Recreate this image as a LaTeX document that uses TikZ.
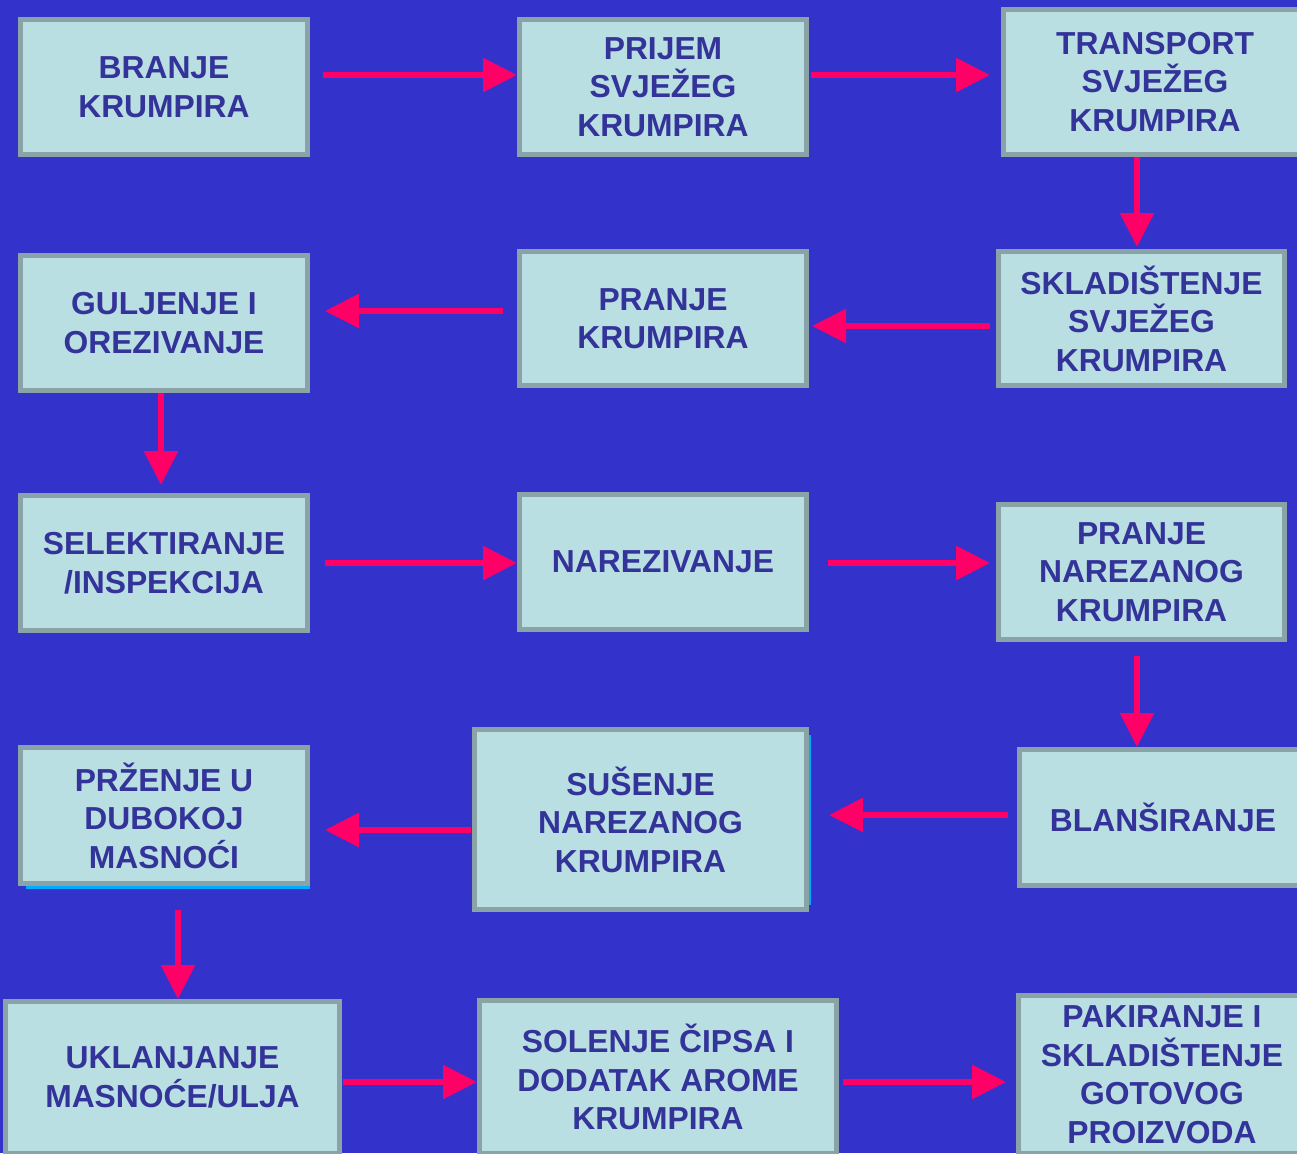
\documentclass[tikz,border=0pt]{standalone}
\usepackage{fontspec}
\setmainfont{Liberation Sans}
\usetikzlibrary{arrows.meta,calc}
\definecolor{bgblue}{RGB}{51,51,204}
\definecolor{boxfill}{RGB}{185,223,227}
\definecolor{boxline}{RGB}{138,163,166}
\definecolor{txtblue}{RGB}{51,51,153}
\definecolor{arrpink}{RGB}{255,0,102}
\definecolor{shadecyan}{RGB}{0,170,255}
\tikzset{
  stepbox/.style={draw=boxline, line width=5pt, fill=boxfill, inner sep=0pt,
    text=txtblue, align=center, font=\fontsize{31.8}{38.5}\selectfont\bfseries},
  arr/.style={draw=arrpink, line width=6pt, -{Triangle[length=34pt,width=33pt]}}
}
\begin{document}
\begin{tikzpicture}[x=1pt,y=-1pt]
\useasboundingbox (0,0) rectangle (1297,1153);
\clip (0,0) rectangle (1297,1153);
\fill[bgblue] (0,0) rectangle (1297,1153);
% shadow accents
\draw[shadecyan, line width=3pt] (26,887) -- (310,887);
\draw[shadecyan, line width=2pt] (810,735) -- (810,905);
% boxes
\node[stepbox, minimum width=287, minimum height=135] (b1) at (164,87) {BRANJE\\KRUMPIRA};
\node[stepbox, minimum width=287, minimum height=135] (b2) at (663,87) {PRIJEM\\SVJEŽEG\\KRUMPIRA};
\node[stepbox, minimum width=303, minimum height=145] (b3) at (1155,82) {TRANSPORT\\SVJEŽEG\\KRUMPIRA};
\node[stepbox, minimum width=286, minimum height=134] (b4) at (1141.5,318.5) {SKLADIŠTENJE\\SVJEŽEG\\KRUMPIRA};
\node[stepbox, minimum width=287, minimum height=134] (b5) at (663,318.5) {PRANJE\\KRUMPIRA};
\node[stepbox, minimum width=287, minimum height=135] (b6) at (164,323) {GULJENJE I\\OREZIVANJE};
\node[stepbox, minimum width=287, minimum height=135] (b7) at (164,563) {SELEKTIRANJE\\/INSPEKCIJA};
\node[stepbox, minimum width=287, minimum height=135] (b8) at (663,562) {NAREZIVANJE};
\node[stepbox, minimum width=286, minimum height=135] (b9) at (1141.5,572) {PRANJE\\NAREZANOG\\KRUMPIRA};
\node[stepbox, minimum width=287, minimum height=136] (b10) at (1163,817.5) {BLANŠIRANJE};
\node[stepbox, minimum width=332, minimum height=180] (b11) at (640.5,819.5) {SUŠENJE\\NAREZANOG\\KRUMPIRA};
\node[stepbox, minimum width=287, minimum height=136] (b12) at (164,815.5) {PRŽENJE U\\DUBOKOJ\\MASNOĆI};
\node[stepbox, minimum width=334, minimum height=152] (b13) at (172.5,1077.5) {UKLANJANJE\\MASNOĆE/ULJA};
\node[stepbox, minimum width=357, minimum height=153] (b14) at (658,1077) {SOLENJE ČIPSA I\\DODATAK AROME\\KRUMPIRA};
\node[stepbox, minimum width=287, minimum height=158] (b15) at (1162,1074.5) {PAKIRANJE I\\SKLADIŠTENJE\\GOTOVOG\\PROIZVODA};
% connectors
\draw[arr, shorten <=13pt] (b1.east |- 0,75) -- (b2.west |- 0,75);
\draw[arr, shorten <=2pt, shorten >=11pt] (b2.east |- 0,75) -- (b3.west |- 0,75);
\draw[arr, shorten >=2pt] (b3.south -| 1137,0) -- (b4.north -| 1137,0);
\draw[arr, shorten <=6pt, shorten >=3pt] (b4.west |- 0,326) -- (b5.east |- 0,326);
\draw[arr, shorten <=14pt, shorten >=15pt] (b5.west |- 0,311) -- (b6.east |- 0,311);
\draw[arr, shorten >=8pt] (b6.south -| 161,0) -- (b7.north -| 161,0);
\draw[arr, shorten <=15pt] (b7.east |- 0,563) -- (b8.west |- 0,563);
\draw[arr, shorten <=19pt, shorten >=6pt] (b8.east |- 0,563) -- (b9.west |- 0,563);
\draw[arr, shorten <=14pt] (b9.south -| 1137,0) -- (b10.north -| 1137,0);
\draw[arr, shorten <=9pt, shorten >=20pt] (b10.west |- 0,815) -- (b11.east |- 0,815);
\draw[arr, shorten <=1pt, shorten >=15pt] (b11.west |- 0,830) -- (b12.east |- 0,830);
\draw[arr, shorten <=24pt] (b12.south -| 178,0) -- (b13.north -| 178,0);
\draw[arr, shorten <=1pt] (b13.east |- 0,1082) -- (b14.west |- 0,1082);
\draw[arr, shorten <=4pt, shorten >=10pt] (b14.east |- 0,1082) -- (b15.west |- 0,1082);
\end{tikzpicture}
\end{document}
